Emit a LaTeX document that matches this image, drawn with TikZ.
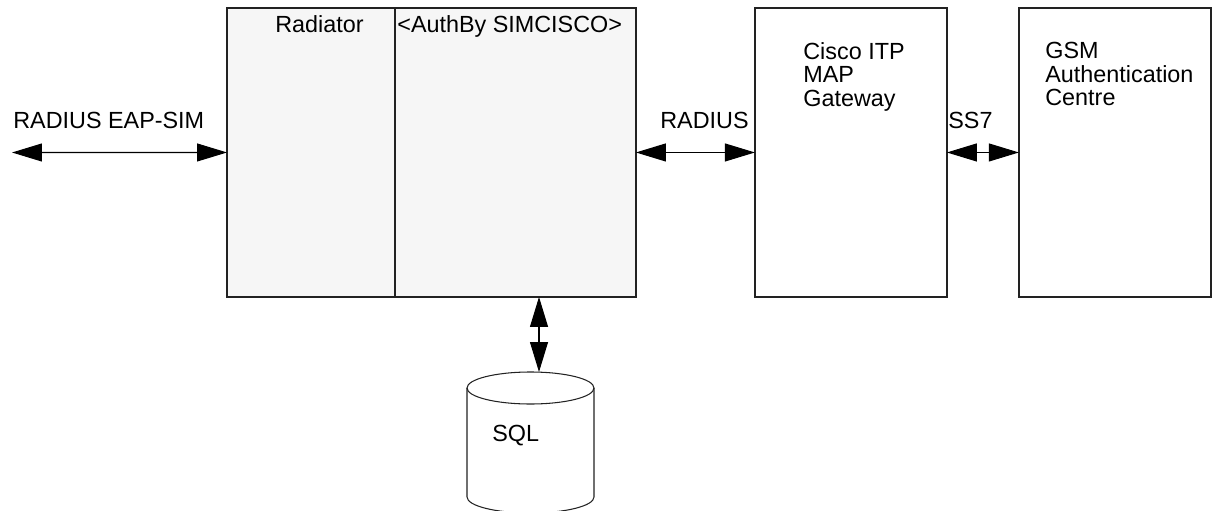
\documentclass[tikz,border=0pt]{standalone}
\usepackage{fontspec}
\setmainfont{Liberation Sans}
\usetikzlibrary{positioning,arrows.meta}
\definecolor{boxfill}{RGB}{246,246,246}
\definecolor{edge}{RGB}{34,34,34}
\tikzset{
 b/.style
  = {rectangle, draw=edge, line width=0.9pt, inner sep=0pt, outer sep=0pt,
     minimum height=5.78cm, anchor=north west},
 txt/.style
  = {inner sep=0pt, font=\fontsize{13.3}{13.4}\selectfont, align=left},
 cyl/.style
  = {draw=edge, line width=0.6pt},
 ll/.style
  = {draw=black, line width=0.6pt,
     {Triangle[length=0.6cm,width=0.36cm]}-{Triangle[length=0.6cm,width=0.36cm]}},
}

\begin{document}
\begin{tikzpicture}[x=0.02cm, y=-0.02cm]
    \useasboundingbox (0,0) rectangle (1212,510);

    % boxes
    \node [b, fill=boxfill, minimum width=3.36cm] (radiator) at (227,8) {};
    \node [b, fill=boxfill, minimum width=4.82cm, right=0pt of radiator] (authby) {};
    \node [b, fill=white, minimum width=3.84cm, right=2.38cm of authby] (cisco) {};
    \node [b, fill=white, minimum width=3.84cm, right=1.44cm of cisco] (gsm) {};

    % database
    \coordinate (dbc) at (530.5,388);
    \draw [cyl] (dbc) ellipse [x radius=63.5, y radius=16];
    \draw [cyl] ([xshift=-1.27cm]dbc) -- ++(0,109)
        arc [start angle=180, end angle=0, x radius=63.5, y radius=16] -- ([xshift=1.27cm]dbc);
    \coordinate (dbtop) at (539,372);

    % texts
    \node [txt, anchor=base west] (eaplbl) at (13,128) {RADIUS EAP-SIM};
    \node [txt, anchor=base west] (radlbl) at (275,33) {Radiator};
    \node [txt, anchor=base west] (authlbl) at (397,33) {<AuthBy SIMCISCO>};
    \node [txt, anchor=base west] (radiuslbl) at (660,128) {RADIUS};
    \node [txt, anchor=base west] (ss7lbl) at (948,128) {SS7};
    \node [txt, anchor=north west] (ciscolbl) at (803,42) {Cisco ITP\\ MAP\\ Gateway};
    \node [txt, anchor=north west] (gsmlbl) at (1045,42) {GSM\\ Authentication\\ Centre};
    \node [txt, anchor=base west] (sqllbl) at (492,441) {SQL};

    % connectors
    \coordinate (eap) at (12,152.5);
    \path [ll] (eap) -- (radiator.west);
    \path [ll] (authby.east) -- (cisco.west);
    \path [ll] (cisco.east) -- (gsm.west);
    \path [ll] (dbtop |- authby.south) -- (dbtop);
\end{tikzpicture}
\end{document}
